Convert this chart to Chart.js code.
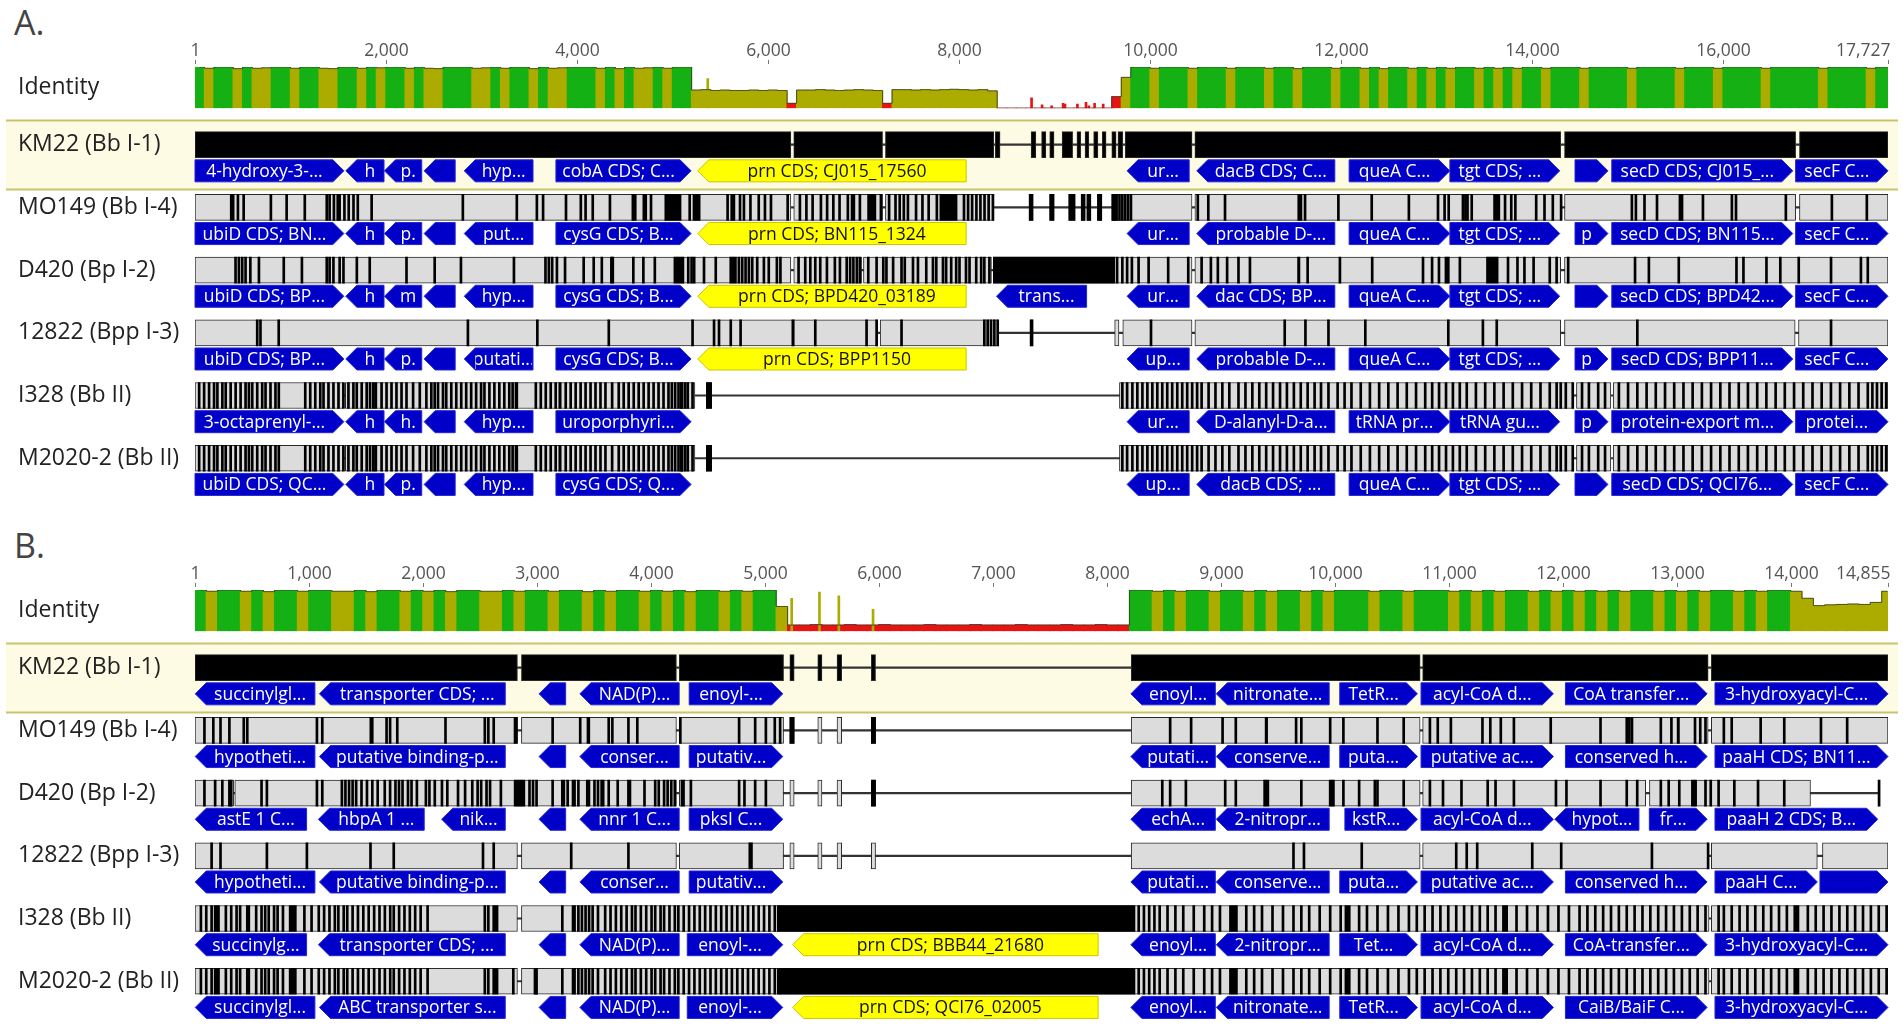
<!DOCTYPE html>
<html>
<head>
<meta charset="utf-8">
<script src="https://cdn.jsdelivr.net/npm/chart.js@4.4.1/dist/chart.umd.min.js"></script>
<style>
  body { margin: 0; background: #fff; }
  #page { position: relative; width: 1903px; height: 1028px; overflow: hidden; font-family: 'Open Sans', sans-serif; }
  .tag { position: absolute; left: 14px; font-size: 34px; line-height: 34px; color: #444; }
  canvas { position: absolute; left: 0; }
</style>
</head>
<body>
<div id="page">
  <div class="tag" style="top:5px">A.</div>
  <canvas id="idA" width="1903" height="95" style="top:30px"></canvas>
  <canvas id="trA" width="1903" height="428" style="top:86px"></canvas>
  <div class="tag" style="top:528px">B.</div>
  <canvas id="idB" width="1903" height="95" style="top:553px"></canvas>
  <canvas id="trB" width="1903" height="428" style="top:609px"></canvas>
</div>
<script>
// ---- data ----
const BIN = 100;
const lengthA = 17727, lengthB = 14855;
const ticksA = [1, 2000, 4000, 6000, 8000, 10000, 12000, 14000, 16000, 17727];
const ticksB = [1, 1000, 2000, 3000, 4000, 5000, 6000, 7000, 8000, 9000, 10000, 11000, 12000, 13000, 14000, 14855];
const strains = ['KM22 (Bb I-1)', 'MO149 (Bb I-4)', 'D420 (Bp I-2)', '12822 (Bpp I-3)', 'I328 (Bb II)', 'M2020-2 (Bb II)'];

// mean identity per 100 bp window
const identityA = [
  100,97,100,100,96,100,97,98,100,100,
  97,100,100,97,96,100,100,97,100,98,
  100,100,97,100,97,96,100,100,100,97,
  98,100,97,100,100,96,100,97,98,100,
  100,100,97,100,96,100,97,98,100,97,100,100,
  44,45,43,44,43,43,44,43,44,43,
  12,44,44,45,44,43,44,45,44,43,12,
  45,45,44,45,44,45,46,45,44,45,42,
  0,0,0,0,0,0,0,0,0,0,0,0,28,75,
  100,100,97,100,100,100,97,100,100,100,
  97,100,100,100,97,100,100,96,100,100,
  100,97,100,100,97,100,96,100,100,97,
  100,97,100,97,100,100,97,100,97,100,
  97,100,100,97,100,100,100,97,100,100,
  100,100,97,100,100,100,100,97,100,100,
  100,97,100,100,100,100,97,100,100,100,
  100,100,97,100,100,100,100,97,100,100
];
const identityB = [
  100,97,100,100,97,100,96,100,100,97,
  100,100,97,97,100,96,100,100,97,100,
  97,100,96,100,100,97,97,100,97,100,
  100,97,100,100,96,100,97,100,100,97,
  100,97,100,96,100,100,97,100,97,100,
  100,60,
  15,15,16,15,15,16,15,15,16,15,
  15,15,16,15,15,15,16,15,15,15,
  16,15,15,15,16,15,15,16,15,15,
  100,100,97,100,97,100,100,97,100,100,
  97,100,97,100,100,97,100,97,100,100,
  100,97,100,100,97,100,100,100,97,100,
  97,100,97,100,100,97,100,97,100,97,
  100,97,100,97,100,100,97,100,97,100,
  97,100,100,97,100,97,100,100,97,
  80,62,64,65,66,65,70,97
];
// narrow identity peaks [position, identity]
const spikesA = [[5370,72],[8760,25],[8870,8],[8970,6],[9090,12],[9110,10],[9240,10],[9330,14],[9360,6],[9420,12],[9510,10],[9620,22]];
const spikesB = [[5236,80],[5480,95],[5650,86],[5950,53]];

// ---- panel A tracks ----
const km22A_seg = [[1,6240],[6270,7200],[7230,8365],[8380,8430],[8755,8805],[8865,8910],[8950,8995],[9080,9190],[9235,9275],[9320,9360],[9410,9455],[9500,9540],[9600,9645],[9665,9715],[9740,10440],[10470,14300],[14340,16760],[16800,17727]];
const mo149A_seg = [[1,6240],[6270,7200],[7230,8365],[8735,8775],[8950,8995],[9150,9215],[9280,9320],[9340,9380],[9450,9495],[9600,10440],[10470,14300],[14340,16760],[16800,17727]];
const d420A_seg = [[1,6240],[6270,6980],[7000,8340],[8360,10440],[10470,14300],[14340,17727]];
const p12822A_seg = [[1,7150],[7175,8410],[8745,8775],[9630,9675],[9715,10440],[10470,14300],[14340,16755],[16790,17727]];
const i328A_seg = [[1,1550],[1575,5235],[5355,5410],[9680,14435],[14465,14825],[14850,17727]];
const m2020A_seg = [[1,1550],[1575,5235],[5355,5410],[9680,14435],[14465,14825],[14850,17727]];

const mo149A_var = [370,390,440,500,785,950,1140,1370,1400,1445,1485,1505,1555,1600,1650,1695,1840,2795,3360,3570,3635,3875,4030,4080,4155,4335,4575,4600,4690,4710,4765,5170,5567,5610,5633,5697,5738,5806,5893,5958,6021,6196,6324,6392,6457,6544,6609,6674,6739,6826,6952,7172,7258,7325,7369,7412,7455,7540,7607,7672,7758,8042,8085,8127,8172,8214,8257,8300,8345,9610,9640,9670,9700,9730,9760,9790,10490,10600,10775,11547,11570,11613,11962,12311,12700,13005,13074,13117,13266,13292,13314,13358,13707,13772,13815,14033,14120,14207,14294,15035,15077,15167,15298,15538,15560,15779,16082,16125,16647,17129,17495];
const mo149A_blk = [[4920,5090],[5215,5290],[6870,6910],[7043,7130],[7800,7980],[8735,8775],[8950,8995],[9150,9215],[9280,9320],[9340,9380],[9450,9495],[9600,9650],[13597,13663]];
const d420A_var = [415,450,485,520,570,660,920,1110,1370,1400,1440,1505,1545,1685,1820,2205,2500,2775,3330,3660,3695,3730,3780,3865,4060,4165,4250,4350,4365,4580,4685,4805,5155,5190,5217,5320,5443,5685,5720,5755,5790,5825,5877,5947,5998,6083,6120,6310,6380,6433,6485,6537,6607,6690,6743,6814,6850,6884,6920,6952,7040,7127,7197,7230,7300,7388,7422,7508,7560,7647,7717,7752,7822,7855,7908,7960,7995,8063,8100,8170,8222,8255,8308,9645,9700,9750,9800,9870,9975,10180,10390,10530,10627,10700,10797,10916,11036,11640,11978,12316,12848,12943,13015,13088,13113,13234,13738,13837,13910,14006,14175,14247,14368,15068,15213,15526,16130,16203,16444,16589,16782,17120,17433,17505];
const d420A_blk = [[5015,5120],[5600,5670],[8360,9630],[11545,11570],[13523,13645]];
const p12822A_var = [642,676,867,2848,3575,4323,5200,5425,5477,5600,5703,6485,7022,7127,7388,8255,8290,8325,8360,8395,10000,11400,11617,11858,12244,13113,13475,13620,15092,17120];
const p12822A_blk = [[6250,6275],[8745,8775]];
const i328A_var = [34,86,138,190,225,277,312,364,416,468,520,555,590,642,694,729,781,833,868,1145,1197,1250,1302,1336,1388,1440,1493,1545,1597,1649,1684,1736,1788,1823,1857,1944,1996,2048,2100,2153,2205,2274,2344,2413,2465,2500,2535,2587,2621,2674,2726,2778,2830,2882,2934,2986,3021,3073,3125,3177,3229,3281,3316,3351,3559,3611,3663,3715,3767,3872,3924,3976,4028,4080,4132,4184,4236,4288,4358,4427,4479,4531,4584,4636,4688,4740,4792,4844,4896,4948,4983,5018,5053,5088,5122,5150,5200,
  9700,9750,9805,9857,9910,9962,10014,10066,10118,10170,10222,10275,10327,10379,10431,10483,10530,10603,10675,10747,10820,10916,10989,11061,11134,11206,11278,11351,11423,11496,11568,11640,11713,11858,11954,12027,12099,12196,12292,12389,12485,12582,12678,12775,12871,12944,13016,13089,13161,13233,13306,13402,13499,13595,13692,13788,13885,13981,14078,14175,14247,14343,14416,14513,14585,14682,14754,14899,14995,15092,15189,15285,15382,15478,15575,15671,15768,15864,15961,16057,16154,16250,16347,16443,16540,16636,16733,16829,16926,17022,17119,17215,17312,17408,17505,17553,17601,17650,17698];
const i328A_blk = [[1880,1905],[3360,3380],[3810,3835],[5080,5110],[5355,5410],[11780,11800],[14290,14305]];
const m2020A_var = i328A_var;
const m2020A_blk = i328A_blk;

const km22A_genes = [[1,1560,1,'4-hydroxy-3-...'],[1580,1980,-1,'h'],[1985,2375,-1,'p.'],[2400,2725,-1,''],[2820,3540,-1,'hyp...'],[3780,5195,1,'cobA CDS; C...'],[5265,8075,-1,'prn CDS; CJ015_17560','y'],[9760,10410,-1,'ur...'],[10490,11935,-1,'dacB CDS; C...'],[12085,13140,1,'queA C...'],[13140,14290,1,'tgt CDS; ...'],[14450,14795,1,''],[14835,16730,1,'secD CDS; CJ015_...'],[16760,17727,1,'secF C...']];
const mo149A_genes = [[1,1560,1,'ubiD CDS; BN...'],[1580,1980,-1,'h'],[1985,2375,-1,'p.'],[2400,2725,-1,''],[2820,3540,-1,'put...'],[3780,5195,1,'cysG CDS; B...'],[5265,8075,-1,'prn CDS; BN115_1324','y'],[9760,10410,-1,'ur...'],[10490,11935,-1,'probable D-...'],[12085,13140,1,'queA C...'],[13140,14290,1,'tgt CDS; ...'],[14450,14795,1,'p'],[14835,16730,1,'secD CDS; BN115...'],[16760,17727,1,'secF C...']];
const d420A_genes = [[1,1560,1,'ubiD CDS; BP...'],[1580,1980,-1,'h'],[1985,2375,-1,'m'],[2400,2725,-1,''],[2820,3540,-1,'hyp...'],[3780,5195,1,'cysG CDS; B...'],[5265,8075,-1,'prn CDS; BPD420_03189','y'],[8393,9336,-1,'trans...'],[9760,10410,-1,'ur...'],[10490,11935,-1,'dac CDS; BP...'],[12085,13140,1,'queA C...'],[13140,14290,1,'tgt CDS; ...'],[14450,14795,1,''],[14835,16730,1,'secD CDS; BPD42...'],[16760,17727,1,'secF C...']];
const p12822A_genes = [[1,1560,1,'ubiD CDS; BP...'],[1580,1980,-1,'h'],[1985,2375,-1,'p.'],[2400,2725,-1,''],[2820,3540,-1,'putati...'],[3780,5195,1,'cysG CDS; B...'],[5265,8075,-1,'prn CDS; BPP1150','y'],[9760,10410,-1,'up...'],[10490,11935,-1,'probable D-...'],[12085,13140,1,'queA C...'],[13140,14290,1,'tgt CDS; ...'],[14450,14795,1,'p'],[14835,16730,1,'secD CDS; BPP11...'],[16760,17727,1,'secF C...']];
const i328A_genes = [[1,1560,1,'3-octaprenyl-...'],[1580,1980,-1,'h'],[1985,2375,-1,'h.'],[2400,2725,-1,''],[2820,3540,-1,'hyp...'],[3780,5195,1,'uroporphyri...'],[9760,10410,-1,'ur...'],[10490,11935,-1,'D-alanyl-D-a...'],[12085,13140,1,'tRNA pr...'],[13140,14290,1,'tRNA gu...'],[14450,14795,1,'p'],[14835,16730,1,'protein-export m...'],[16760,17727,1,'protei...']];
const m2020A_genes = [[1,1560,1,'ubiD CDS; QC...'],[1580,1980,-1,'h'],[1985,2375,-1,'p.'],[2400,2725,-1,''],[2820,3540,-1,'hyp...'],[3780,5195,1,'cysG CDS; Q...'],[9760,10410,-1,'up...'],[10490,11935,-1,'dacB CDS; ...'],[12085,13140,1,'queA C...'],[13140,14290,1,'tgt CDS; ...'],[14450,14795,1,''],[14835,16730,1,'secD CDS; QCI76...'],[16760,17727,1,'secF C...']];

// ---- panel B tracks ----
const km22B_seg = [[1,2830],[2865,4225],[4250,5165],[5220,5258],[5465,5502],[5634,5675],[5935,5972],[8215,10750],[10772,13277],[13305,14855]];
const mo149B_seg = [[1,2830],[2865,4225],[4250,5165],[5220,5258],[5465,5502],[5634,5675],[5935,5972],[8215,10750],[10772,13277],[13305,14855]];
const d420B_seg = [[1,340],[350,4225],[4250,5165],[5220,5258],[5465,5502],[5634,5675],[5935,5972],[8215,10750],[10772,12729],[12762,14175],[14768,14775]];
const p12822B_seg = [[1,2830],[2865,4225],[4250,5165],[5220,5258],[5465,5502],[5634,5675],[5935,5972],[8215,10750],[10772,13277],[13305,14235],[14280,14855]];
const i328B_seg = [[1,2830],[2865,13285],[13305,14855]];
const m2020B_seg = [[1,2830],[2865,13285],[13305,14855]];
const d420B_end = 14775;

const mo149B_var = [75,153,216,294,420,451,1062,1109,1673,1704,1767,2190,2535,2566,2613,3130,3372,3622,3654,3795,3873,4766,4907,5001,5079,5126,8548,8732,9008,9124,9653,9699,9952,10068,10367,10597,10827,10896,11011,11288,11357,11449,11564,11887,12324,12554,12577,12600,12853,12946,13153,13199,13245,13406,13475,13729,13936,14258,14488];
const mo149B_blk = [[1535,1565],[2800,2830],[3440,3465],[4250,4268],[5220,5258],[5935,5972],[9390,9412],[13005,13025]];
const d420B_var = [75,169,232,294,310,576,623,1062,1109,1281,1312,1344,1375,1406,1453,1501,1548,1595,1657,1704,1751,1782,1813,1861,1892,1939,2018,2049,2096,2159,2206,2300,2362,2425,2472,2503,2550,2581,2676,2927,2958,2989,3130,3262,3356,3497,3528,3622,3701,3936,4030,4061,4108,4139,4171,4202,4343,4766,4813,4907,5001,8479,8548,8686,9031,9124,9699,10068,10206,10344,10367,10597,10827,10942,11104,11334,11403,11564,11933,12025,12324,12554,12646,12853,12922,13015,13245,13291,13360,13498,13706,13936];
const d420B_blk = [[2801,2895],[3215,3246],[3309,3340],[3434,3466],[3560,3591],[3795,3826],[4265,4296],[5935,5972],[9377,9423],[9952,9998],[13130,13176],[14768,14775]];
const p12822B_var = [138,216,623,974,1532,1736,2519,2613,3293,3795,9630,9722,10229,11058,11150,11242,11725,11979,12775,13268];
const p12822B_blk = [[4860,4892]];
const i328B_var = [44,91,138,263,310,357,388,529,576,608,639,686,717,764,952,1015,1078,1125,1172,1219,1250,1297,1328,1375,1422,1469,1516,1564,1611,1658,1705,1736,1783,1830,1877,1924,1972,2033,2535,2566,
  3215,3356,3387,3419,3450,3481,3591,3638,3685,3732,3779,3826,3857,3904,3951,3998,4030,4077,4108,4155,4202,4233,4280,4327,4374,4421,4468,4515,4562,4609,4656,4703,4750,4797,4844,4891,4938,4985,5032,5079,5110,
  8272,8318,8364,8410,8456,8525,8594,8663,8755,8847,8916,8985,9216,9285,9354,9446,9538,9630,9699,9768,9860,9952,10044,10206,10275,10367,10459,10551,10643,10712,10781,10850,10919,10988,11058,11127,11196,11265,11334,11403,11587,11679,11771,11863,11955,12047,12140,12209,12278,12347,12416,12485,12554,12623,12692,12761,12830,12899,12968,13038,13107,13176,13245,13360,13406,13475,13544,13613,13682,13752,13821,13890,13959,14143,14212,14281,14350,14420,14489,14558,14627,14696,14765,14834];
const i328B_blk = [[169,216],[451,482],[827,890],[2613,2660],[3309,3340],[3528,3544],[5126,8248],[9077,9147],[10090,10137],[11472,11518],[14028,14074]];
const m2020B_var = [...i328B_var, 2785, 2989];
const m2020B_blk = [...i328B_blk, [2975,3000]];

const km22B_genes = [[3,1053,-1,'succinylgl...'],[1093,2723,-1,'transporter CDS; ...'],[3020,3253,-1,''],[3378,4249,-1,'NAD(P)...'],[4337,5158,1,'enoyl-...'],[8212,8953,-1,'enoyl...'],[8962,9952,-1,'nitronate...'],[10045,10726,1,'TetR...'],[10758,11919,1,'acyl-CoA d...'],[12025,13268,1,'CoA transfer...'],[13337,14855,1,'3-hydroxyacyl-C...']];
const mo149B_genes = [[3,1053,-1,'hypotheti...'],[1093,2723,-1,'putative binding-p...'],[3020,3253,-1,''],[3378,4249,-1,'conser...'],[4337,5158,1,'putativ...'],[8212,8953,-1,'putati...'],[8962,9952,-1,'conserve...'],[10045,10726,1,'puta...'],[10758,11919,1,'putative ac...'],[12025,13268,1,'conserved h...'],[13337,14855,1,'paaH CDS; BN11...']];
const d420B_genes = [[3,980,-1,'astE 1 C...'],[1084,2012,-1,'hbpA 1 ...'],[2165,2723,-1,'nik...'],[3020,3253,-1,''],[3378,4249,-1,'nnr 1 C...'],[4337,5158,1,'pksI C...'],[8212,8953,-1,'echA...'],[8962,9952,-1,'2-nitropr...'],[10090,10726,1,'kstR...'],[10758,11919,1,'acyl-CoA d...'],[11932,12670,-1,'hypot...'],[12761,13268,1,'fr...'],[13337,14765,1,'paaH 2 CDS; B...']];
const p12822B_genes = [[3,1053,-1,'hypotheti...'],[1093,2723,-1,'putative binding-p...'],[3020,3253,-1,''],[3378,4249,-1,'conser...'],[4337,5158,1,'putativ...'],[8212,8953,-1,'putati...'],[8962,9952,-1,'conserve...'],[10045,10726,1,'puta...'],[10758,11919,1,'putative ac...'],[12025,13268,1,'conserved h...'],[13337,14235,1,'paaH C...'],[14258,14855,1,'']];
const i328B_genes = [[3,980,-1,'succinylg...'],[1084,2723,-1,'transporter CDS; ...'],[3020,3253,-1,''],[3378,4249,-1,'NAD(P)...'],[4320,5158,1,'enoyl-...'],[5245,7925,-1,'prn CDS; BBB44_21680','y'],[8212,8953,-1,'enoyl...'],[8962,9952,-1,'2-nitropr...'],[10045,10726,1,'Tet...'],[10758,11919,1,'acyl-CoA d...'],[12025,13268,1,'CoA-transfer...'],[13337,14855,1,'3-hydroxyacyl-C...']];
const m2020B_genes = [[3,1053,-1,'succinylgl...'],[1093,2723,-1,'ABC transporter s...'],[3020,3253,-1,''],[3378,4249,-1,'NAD(P)...'],[4320,5158,1,'enoyl-...'],[5245,7925,-1,'prn CDS; QCI76_02005','y'],[8212,8953,-1,'enoyl...'],[8962,9952,-1,'nitronate...'],[10045,10726,1,'TetR...'],[10758,11919,1,'acyl-CoA d...'],[12025,13268,1,'CaiB/BaiF C...'],[13337,14855,1,'3-hydroxyacyl-C...']];

// ---- drawing ----
Chart.defaults.font.family = "'Open Sans', sans-serif";
const PLOT_W = 1888 - 195;
const GENE_OFF = 0.417;

function idColor(v) {
  if (v >= 99.5) return '#14b014';
  if (v >= 30) return '#abab00';
  return '#e81414';
}

const rulerPlugin = {
  id: 'ruler',
  afterDraw(chart, args, opts) {
    const x = chart.scales.x, top = chart.chartArea.top, ctx = chart.ctx;
    ctx.save();
    ctx.font = '17.5px "Open Sans"';
    ctx.fillStyle = '#555';
    ctx.strokeStyle = '#777';
    ctx.lineWidth = 1;
    ctx.textBaseline = 'middle';
    opts.ticks.forEach((v, i) => {
      const last = i === opts.ticks.length - 1;
      const px = Math.round(x.getPixelForValue(v)) + 0.5;
      ctx.beginPath();
      ctx.moveTo(px, top - 7);
      ctx.lineTo(px, top - 3);
      ctx.stroke();
      ctx.textAlign = last ? 'right' : 'center';
      ctx.fillText(v.toLocaleString('en-US'), last ? px + 2 : px, top - 16);
    });
    ctx.restore();
  }
};

const bandPlugin = {
  id: 'band',
  beforeDraw(chart) {
    const y = chart.scales.y, ctx = chart.ctx;
    const t = y.getPixelForValue(-0.385), b = y.getPixelForValue(0.715);
    ctx.save();
    ctx.fillStyle = '#fdfbe4';
    ctx.fillRect(6, t, 1892, b - t);
    ctx.strokeStyle = '#c9c36c';
    ctx.lineWidth = 2;
    ctx.beginPath();
    ctx.moveTo(6, t); ctx.lineTo(1898, t);
    ctx.moveTo(6, b); ctx.lineTo(1898, b);
    ctx.stroke();
    ctx.restore();
  }
};

const genePlugin = {
  id: 'genes',
  afterDatasetsDraw(chart) {
    const ds = chart.data.datasets[3];
    const meta = chart.getDatasetMeta(3);
    const ctx = chart.ctx;
    ctx.save();
    ctx.font = '17.5px "Open Sans"';
    ctx.textBaseline = 'middle';
    ctx.textAlign = 'center';
    meta.data.forEach((el, i) => {
      const g = ds.data[i];
      const p = el.getProps(['x', 'base', 'y', 'height'], true);
      const l = Math.min(p.x, p.base), r = Math.max(p.x, p.base);
      const t = p.y - p.height / 2, b = p.y + p.height / 2;
      const tip = Math.min(11, (r - l) / 2);
      ctx.beginPath();
      if (g.dir > 0) {
        ctx.moveTo(l, t); ctx.lineTo(r - tip, t); ctx.lineTo(r, p.y); ctx.lineTo(r - tip, b); ctx.lineTo(l, b);
      } else {
        ctx.moveTo(r, t); ctx.lineTo(l + tip, t); ctx.lineTo(l, p.y); ctx.lineTo(l + tip, b); ctx.lineTo(r, b);
      }
      ctx.closePath();
      ctx.fillStyle = g.prn ? '#ffff00' : '#0000c8';
      ctx.fill();
      ctx.lineWidth = 1;
      ctx.strokeStyle = g.prn ? '#cdc400' : '#2424d4';
      ctx.stroke();
      if (g.label) {
        const bl = g.dir > 0 ? l + 1 : l + tip;
        const br = g.dir > 0 ? r - tip : r - 1;
        ctx.save();
        ctx.beginPath();
        ctx.rect(bl, t, br - bl, b - t);
        ctx.clip();
        ctx.fillStyle = g.prn ? '#111' : '#fff';
        ctx.fillText(g.label, (bl + br) / 2, p.y + 1);
        ctx.restore();
      }
    });
    ctx.restore();
  }
};

// the y-axis labels reserve half a line (~14px) above and below the plot;
// canvases are sized so the plot area lands where the panel rows are
function identityChart(id, len, values, spikes, ticks) {
  const binData = values.map((v, i) => ({x: i * BIN + BIN / 2, y: v}));
  const spikeData = spikes.map(s => ({x: s[0], y: s[1]}));
  new Chart(document.getElementById(id), {
    type: 'bar',
    data: {
      datasets: [
        {type: 'line', data: binData, stepped: 'middle', borderColor: 'rgba(60,60,40,0.85)', borderWidth: 1, pointRadius: 0, order: 0},
        {data: spikeData, backgroundColor: c => idColor(c.raw.y), barThickness: 2, stack: 'id', order: 1},
        {data: binData, backgroundColor: c => idColor(c.raw.y), barThickness: BIN * PLOT_W / (len - 1) + 0.6, stack: 'id', order: 2}
      ]
    },
    options: {
      responsive: false, animation: false, events: [],
      layout: {padding: {left: 18, right: 15, top: 37, bottom: 14}},
      scales: {
        x: {type: 'linear', min: 1, max: len, display: false, offset: false, grid: {offset: false}},
        y: {
          min: 0, max: 100, stacked: false,
          grid: {display: false}, border: {display: false},
          afterFit: s => { s.width = 177; },
          afterBuildTicks: s => { s.ticks = [{value: 50}]; },
          ticks: {callback: () => 'Identity', crossAlign: 'far', font: {size: 23}, color: '#222'}
        }
      },
      plugins: {legend: {display: false}, tooltip: {enabled: false}, ruler: {ticks: ticks}}
    },
    plugins: [rulerPlugin]
  });
}

function tracksChart(id, len, ends, segs, vars, blks, genes) {
  const backbone = ends.map((e, i) => ({x: [1, e], y: i}));
  const segData = [], varData = [], geneData = [];
  segs.forEach((list, i) => list.forEach(s => segData.push({x: s, y: i, ref: i === 0})));
  vars.forEach((list, i) => list.forEach(p => varData.push({x: [p, p], y: i})));
  blks.forEach((list, i) => list.forEach(s => varData.push({x: s, y: i})));
  genes.forEach((list, i) => list.forEach(g => geneData.push({x: [g[0], g[1]], y: i + GENE_OFF, dir: g[2], label: g[3], prn: g[4] === 'y'})));
  new Chart(document.getElementById(id), {
    type: 'bar',
    data: {
      datasets: [
        {data: backbone, backgroundColor: '#333', barThickness: 1.5, stack: 'row', order: 4},
        {data: segData, backgroundColor: c => (c.raw && c.raw.ref) ? '#000' : '#dcdcdc', borderColor: '#2a2a2a', borderWidth: 1, borderSkipped: false, barThickness: 26, stack: 'row', order: 3},
        {data: varData, backgroundColor: '#000', barThickness: 26, minBarLength: 2, stack: 'row', order: 2},
        {data: geneData, backgroundColor: 'rgba(0,0,0,0)', barThickness: 22, stack: 'row', order: 1}
      ]
    },
    options: {
      indexAxis: 'y', responsive: false, animation: false, events: [],
      layout: {padding: {left: 18, right: 15, top: 14, bottom: 14}},
      scales: {
        x: {type: 'linear', min: 1, max: len, display: false, stacked: false},
        y: {
          type: 'linear', reverse: true, min: -0.668, max: 5.621, offset: false,
          grid: {display: false, offset: false}, border: {display: false},
          afterFit: s => { s.width = 177; },
          afterBuildTicks: s => { s.ticks = strains.map((n, i) => ({value: i})); },
          ticks: {callback: (v, i) => strains[i], crossAlign: 'far', autoSkip: false, font: {size: 23}, color: '#222'}
        }
      },
      plugins: {legend: {display: false}, tooltip: {enabled: false}}
    },
    plugins: [bandPlugin, genePlugin]
  });
}

identityChart('idA', lengthA, identityA, spikesA, ticksA);
tracksChart('trA', lengthA,
  [lengthA, lengthA, lengthA, lengthA, lengthA, lengthA],
  [km22A_seg, mo149A_seg, d420A_seg, p12822A_seg, i328A_seg, m2020A_seg],
  [[], mo149A_var, d420A_var, p12822A_var, i328A_var, m2020A_var],
  [[], mo149A_blk, d420A_blk, p12822A_blk, i328A_blk, m2020A_blk],
  [km22A_genes, mo149A_genes, d420A_genes, p12822A_genes, i328A_genes, m2020A_genes]);

identityChart('idB', lengthB, identityB, spikesB, ticksB);
tracksChart('trB', lengthB,
  [lengthB, lengthB, d420B_end, lengthB, lengthB, lengthB],
  [km22B_seg, mo149B_seg, d420B_seg, p12822B_seg, i328B_seg, m2020B_seg],
  [[], mo149B_var, d420B_var, p12822B_var, i328B_var, m2020B_var],
  [[], mo149B_blk, d420B_blk, p12822B_blk, i328B_blk, m2020B_blk],
  [km22B_genes, mo149B_genes, d420B_genes, p12822B_genes, i328B_genes, m2020B_genes]);
</script>
</body>
</html>
